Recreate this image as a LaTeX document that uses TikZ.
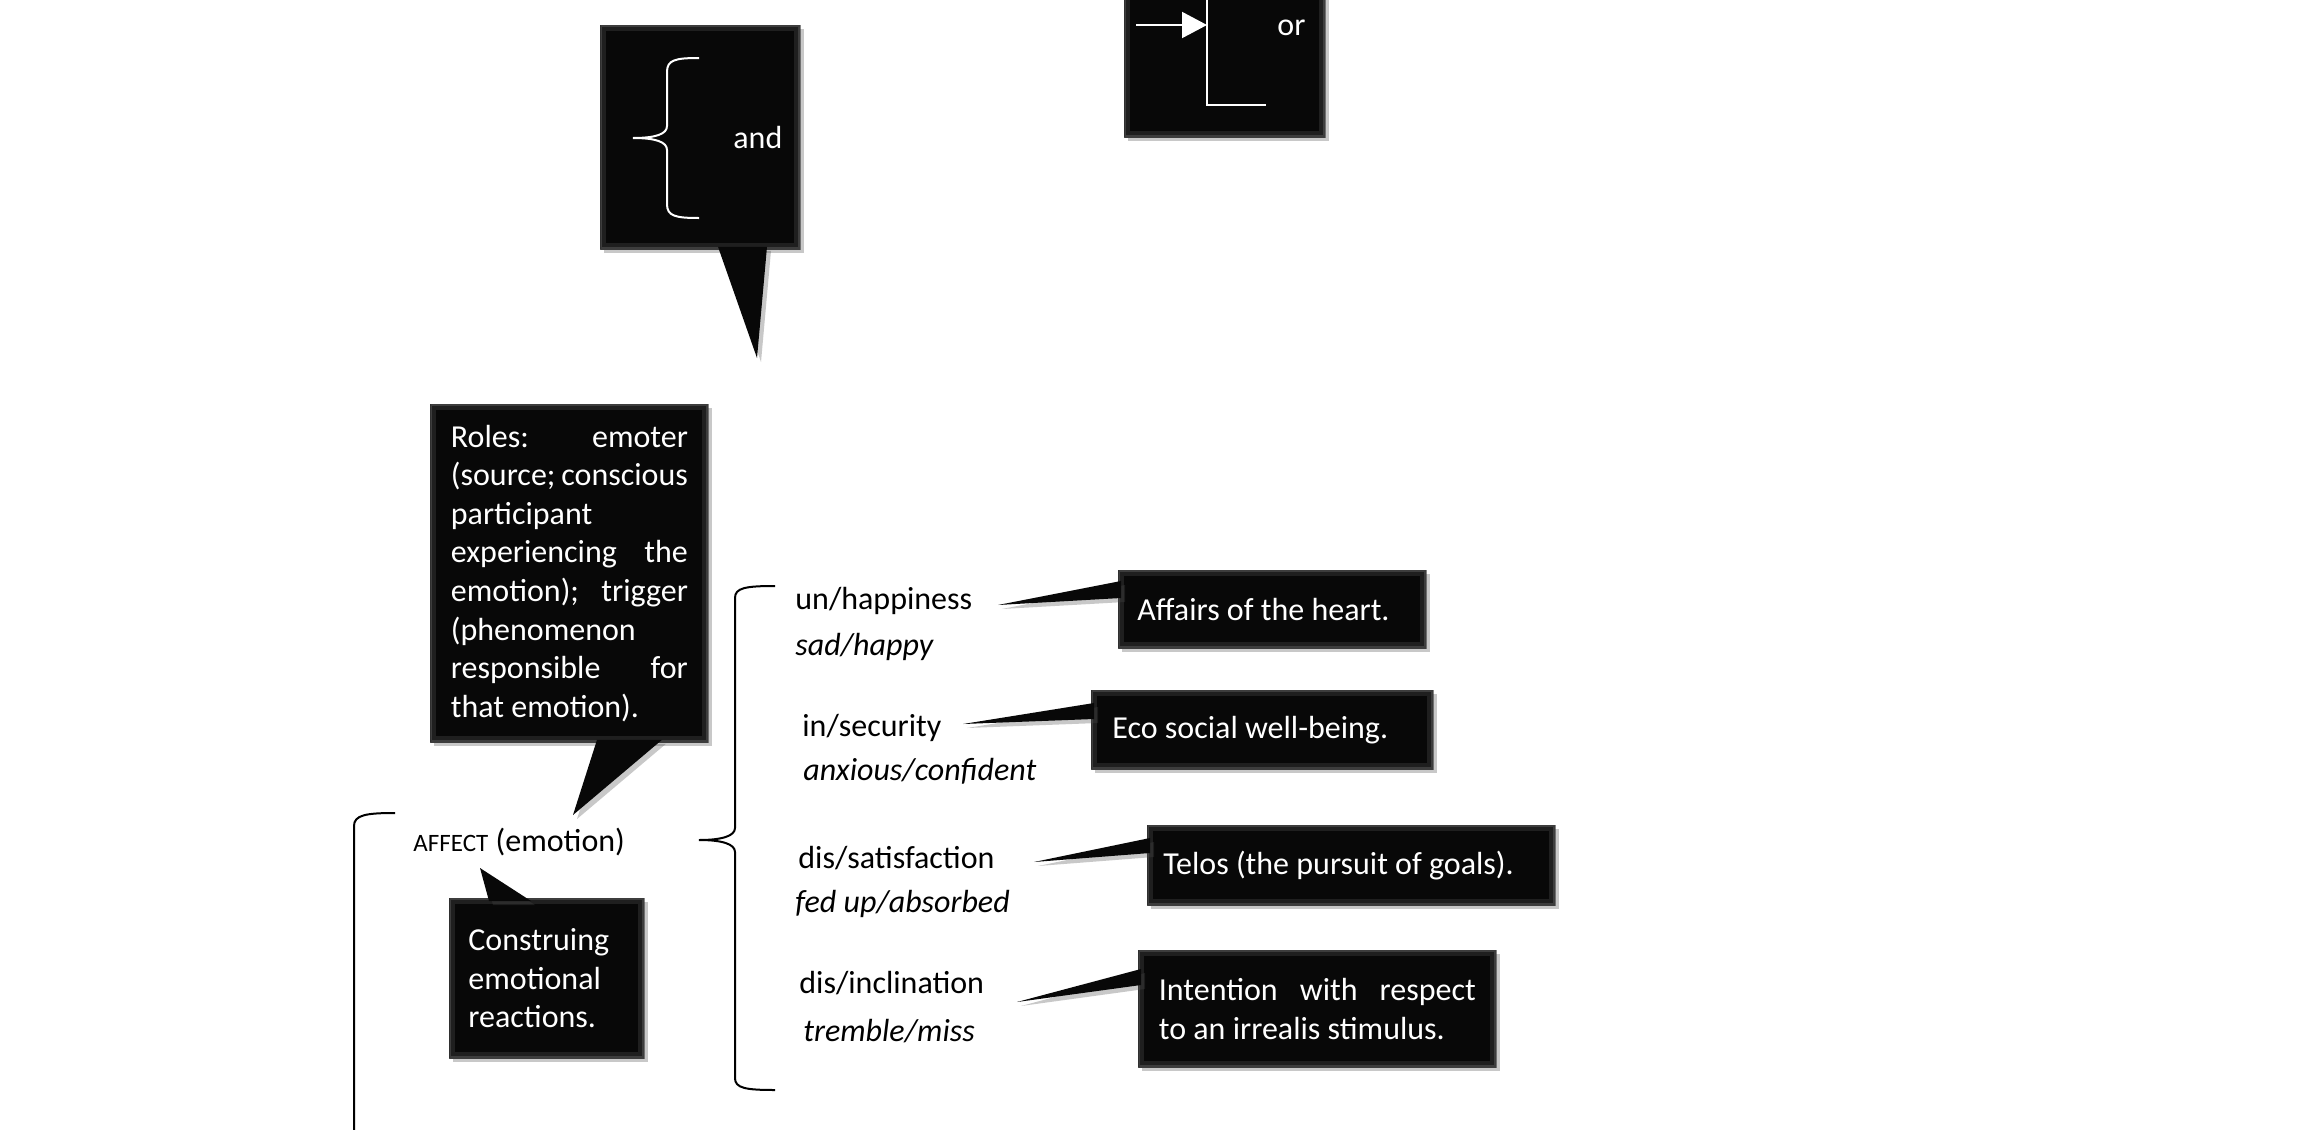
\documentclass[tikz,border=0pt]{standalone}
\usepackage{fontspec}
\setmainfont{Carlito}
\usetikzlibrary{arrows.meta,calc,shadows}
\newcommand{\jline}[1]{\makebox[\linewidth][s]{#1}}

\begin{document}
\begin{tikzpicture}[x=0.5pt, y=-0.5pt, font=\fontsize{16}{19.3}\selectfont,
    boxshadow/.style={drop shadow={shadow xshift=2pt, shadow yshift=-2pt, opacity=0.3, fill=black!70}},
    callout/.style={boxshadow, fill=black!97, text=white, inner sep=0pt, anchor=north west, align=flush left,
      path picture={
        \draw[black!88, line width=6pt] (path picture bounding box.south west) rectangle (path picture bounding box.north east);
        \draw[black!76, line width=2pt] (path picture bounding box.south west) rectangle (path picture bounding box.north east);}},
    tail/.style={boxshadow, fill=black!97},
    wline/.style={white, line width=1pt},
    bline/.style={black, line width=1pt},
    lbl/.style={anchor=base west, inner sep=0pt}]
    \path[use as bounding box, fill=white] (0,0) rectangle (2314,1130);
    \clip (0,0) rectangle (2314,1130);

    % top boxes
    \node[callout, minimum width=100pt, minimum height=112pt] (andbox) at (600,25) {};
    \node[callout, minimum width=100.5pt, minimum height=112pt] (orbox) at (1124,-87) {};
    \node[lbl, text=white] (andtxt) at (733,148) {and};
    \node[lbl, text=white] (ortxt) at (1277,35) {or};
    \draw[wline] (699,58) .. controls (675,58) and (667,60) .. (667,72) -- (667,126)
        .. controls (667,134) and (656,138) .. (633,138)
        .. controls (656,138) and (667,142) .. (667,150) -- (667,204)
        .. controls (667,216) and (675,218) .. (699,218);
    \coordinate (orstart) at (1136,25);
    \coordinate (orbar) at (1207,25);
    \draw[wline, -{Triangle[length=12.5pt, width=13pt]}] (orstart) -- (orbar);
    \draw[wline] (1207,-20) -- (1207,105) -- (1266,105);

    % affect and its callouts
    \node[lbl] (affect) at (413,851) {{\fontsize{12.5}{15}\selectfont AFFECT} (emotion)};
    \node[callout, minimum width=139pt, minimum height=169pt, text width=118.5pt] (roles) at (430,404)
        {\jline{Roles: emoter}\\ \jline{(source; conscious}\\ participant\\ \jline{experiencing the}\\
         \jline{emotion); trigger}\\ (phenomenon\\ \jline{responsible for}\\ that emotion).};
    \node[callout, minimum width=97.5pt, minimum height=80pt, text width=78.5pt] (constr) at (449,898)
        {Construing\\ emotional\\ reactions.};

    % brackets
    \draw[bline] (395,813) .. controls (366,813) and (354,815) .. (354,826) -- (354,1140);
    \draw[bline] (775,586) .. controls (745,586) and (735,588) .. (735,598) -- (735,828)
        .. controls (735,836) and (722,840) .. (699,840)
        .. controls (722,840) and (735,844) .. (735,852) -- (735,1078)
        .. controls (735,1088) and (745,1090) .. (775,1090);

    % kinds of affect
    \foreach \nm/\txt/\xx/\yy in {happy/un\slash happiness/795/609, secure/in\slash security/802/736,
        satisf/dis\slash satisfaction/798/868, inclin/dis\slash inclination/799/993}
        \node[lbl] (\nm) at (\xx,\yy) {\txt};
    \foreach \nm/\txt/\xx/\yy in {sadhappy/sad\slash happy/795/655, anxconf/anxious\slash confident/803/780,
        fedup/fed up\slash absorbed/795/912, trembl/tremble\slash miss/803/1041}
        \node[lbl, font=\fontsize{16}{19.3}\selectfont\itshape] (\nm) at (\xx,\yy) {\txt};

    \node[callout, minimum width=154pt, minimum height=39pt, text width=135pt] (affairs) at (1118,570) {Affairs of the heart.};
    \node[callout, minimum width=171pt, minimum height=39.5pt, text width=150pt] (eco) at (1091,690) {Eco social well-being.};
    \node[callout, minimum width=204pt, minimum height=40pt, text width=188pt] (telos) at (1147,825) {Telos (the pursuit of goals).};
    \node[callout, minimum width=179pt, minimum height=58.5pt, text width=158.5pt] (intent) at (1138,950)
        {\jline{Intention with respect}\\ to an irrealis stimulus.};

    % tails
    \coordinate (andtip) at (757,358);
    \coordinate (rolestip) at (573,815);
    \coordinate (constrtip) at (480,868);
    \coordinate (affairstip) at (998,605);
    \coordinate (ecotip) at (963,724);
    \coordinate (telostip) at (1034,862);
    \coordinate (intenttip) at (1017,1002);
    \fill[tail] ($(andbox.south west)+(118,-3)$) -- (andtip) -- ($(andbox.south west)+(167,-3)$) -- cycle;
    \fill[tail] ($(roles.south west)+(167,-3)$) -- (rolestip) -- ($(roles.south west)+(232,-3)$) -- cycle;
    \fill[tail] ($(constr.north west)+(40,3)$) -- (constrtip) -- ($(constr.north west)+(82,3)$) -- cycle;
    \fill[tail] ($(affairs.north west)+(3,11)$) -- (affairstip) -- ($(affairs.north west)+(3,28)$) -- cycle;
    \fill[tail] ($(eco.north west)+(3,13)$) -- (ecotip) -- ($(eco.north west)+(3,29)$) -- cycle;
    \fill[tail] ($(telos.north west)+(3,13)$) -- (telostip) -- ($(telos.north west)+(3,28)$) -- cycle;
    \fill[tail] ($(intent.north west)+(3,19)$) -- (intenttip) -- ($(intent.north west)+(3,35)$) -- cycle;
\end{tikzpicture}
\end{document}
